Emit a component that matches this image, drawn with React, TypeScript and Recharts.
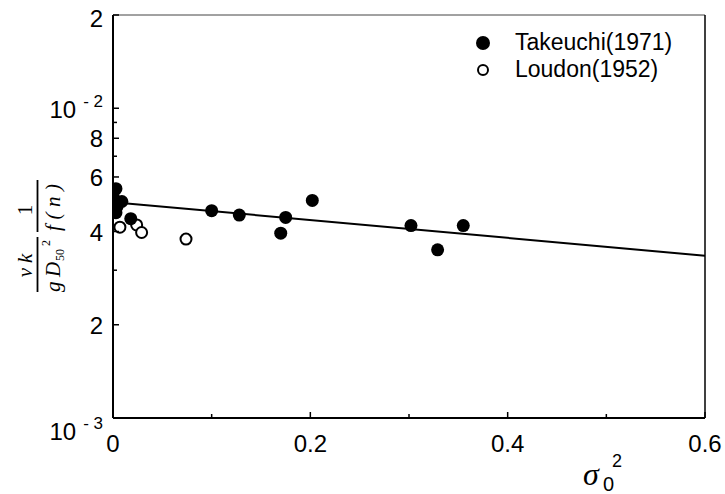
import React from 'react';
import {
  ScatterChart,
  Scatter,
  XAxis,
  YAxis,
  ReferenceLine,
  Legend,
} from 'recharts';

// Takeuchi (1971) measurements: sigma0^2 vs normalised coefficient
const takeuchi = [
  { x: 0.003, y: 0.0055 },
  { x: 0.0, y: 0.0052 },
  { x: 0.009, y: 0.005 },
  { x: 0.004, y: 0.0048 },
  { x: 0.003, y: 0.0046 },
  { x: 0.018, y: 0.0044 },
  { x: 0.1, y: 0.00467 },
  { x: 0.128, y: 0.00452 },
  { x: 0.175, y: 0.00444 },
  { x: 0.17, y: 0.00395 },
  { x: 0.202, y: 0.00504 },
  { x: 0.302, y: 0.00418 },
  { x: 0.329, y: 0.00349 },
  { x: 0.355, y: 0.00418 },
];

// Loudon (1952) measurements
const loudon = [
  { x: 0.007, y: 0.00413 },
  { x: 0.024, y: 0.0042 },
  { x: 0.029, y: 0.00397 },
  { x: 0.074, y: 0.00378 },
];

// fitted relation, straight on the semi-log plot
const fitLine = [
  { x: 0, y: 0.004975 },
  { x: 0.6, y: 0.00334 },
];

const xTicks = [0, 0.1, 0.2, 0.3, 0.4, 0.5, 0.6];
const xTickLabels: Record<string, string> = { '0': '0', '0.2': '0.2', '0.4': '0.4', '0.6': '0.6' };

const yTicks = [0.001, 0.002, 0.003, 0.004, 0.005, 0.006, 0.007, 0.008, 0.009, 0.01, 0.02];
const yTickLabels: Record<string, string> = {
  '0.002': '2',
  '0.004': '4',
  '0.006': '6',
  '0.008': '8',
  '0.02': '2',
};
const yPowerLabels: Record<string, string> = { '0.001': '- 3', '0.01': '- 2' };

const SANS = '"Liberation Sans", Arial, Helvetica, sans-serif';
const SERIF = '"Liberation Serif", "Times New Roman", serif';

const XTick = (props: any) => {
  const { x, y, payload } = props;
  const label = xTickLabels[String(payload.value)];
  const len = label ? 6 : 4;
  return (
    <g>
      <line x1={x} y1={y} x2={x} y2={y - len} stroke="#000" strokeWidth={1.5} />
      {label && (
        <text x={x} y={y + 34} textAnchor="middle" fontFamily={SANS} fontSize={24} fill="#000">
          {label}
        </text>
      )}
    </g>
  );
};

const YTick = (props: any) => {
  const { x, y, payload } = props;
  const key = String(payload.value);
  const label = yTickLabels[key];
  const power = yPowerLabels[key];
  const len = label || power ? 6 : 4;
  return (
    <g>
      <line x1={x} y1={y} x2={x + len} y2={y} stroke="#000" strokeWidth={1.5} />
      {label && (
        <text x={x - 10} y={y + (key === '0.02' ? 12 : 9)} textAnchor="end" fontFamily={SANS} fontSize={24} fill="#000">
          {label}
        </text>
      )}
      {power && (
        <text x={x - 10} y={y + (key === '0.001' ? 22 : 10)} textAnchor="end" fontFamily={SANS} fontSize={24} fill="#000">
          10
          <tspan dx={7} dy={-11} fontSize={17}>
            {power}
          </tspan>
        </text>
      )}
    </g>
  );
};

const FilledDot = (p: any) => <circle cx={p.cx} cy={p.cy} r={6.5} fill="#000" />;
const OpenDot = (p: any) => <circle cx={p.cx} cy={p.cy} r={5.5} fill="#fff" stroke="#000" strokeWidth={2} />;
const NoDot = () => <g />;

const legendItems = [
  { name: 'Takeuchi(1971)', filled: true },
  { name: 'Loudon(1952)', filled: false },
];

const LegendBox = () => (
  <div style={{ fontFamily: SANS, fontSize: 23, color: '#000' }}>
    {legendItems.map((item) => (
      <div key={item.name} style={{ display: 'flex', alignItems: 'center', height: 27 }}>
        <svg width={20} height={20} style={{ marginRight: 22 }}>
          {item.filled ? (
            <circle cx={10} cy={10} r={7} fill="#000" />
          ) : (
            <circle cx={10} cy={10} r={5} fill="#fff" stroke="#000" strokeWidth={2} />
          )}
        </svg>
        <span>{item.name}</span>
      </div>
    ))}
  </div>
);

// rotated fraction: (nu k / g D50^2) * (1 / f(n))
const YAxisTitle = () => (
  <g transform="translate(40,236) rotate(-90)" fill="#000">
    <text x={-29.5} y={-8} textAnchor="middle" fontFamily={SERIF} fontStyle="italic" fontSize={21}>
      ν<tspan dx={5}>k</tspan>
    </text>
    <line x1={-56} y1={-2.5} x2={-1} y2={-2.5} stroke="#000" strokeWidth={1.8} />
    <text x={-56} y={20} fontFamily={SERIF} fontStyle="italic" fontSize={21}>g</text>
    <text x={-41} y={20} fontFamily={SERIF} fontStyle="italic" fontSize={21}>D</text>
    <text x={-25} y={24} fontFamily={SERIF} fontSize={12}>50</text>
    <text x={-10} y={10} fontFamily={SERIF} fontSize={12}>2</text>
    <text x={26} y={-8} textAnchor="middle" fontFamily={SERIF} fontSize={21}>1</text>
    <line x1={4} y1={-2.5} x2={56} y2={-2.5} stroke="#000" strokeWidth={1.8} />
    <text x={5} y={20} fontFamily={SERIF} fontStyle="italic" fontSize={21} textLength={47} lengthAdjust="spacing">
      f(n)
    </text>
  </g>
);

export default function App() {
  return (
    <div style={{ position: 'absolute', left: 0, top: 0, width: 725, height: 494, background: '#fff' }}>
      <ScatterChart width={725} height={494} margin={{ top: 15, right: 20, bottom: 46, left: 13 }}>
        <XAxis
          type="number"
          dataKey="x"
          domain={[0, 0.6]}
          ticks={xTicks}
          interval={0}
          allowDataOverflow
          tickSize={0}
          tickMargin={0}
          tickLine={false}
          tick={<XTick />}
          height={30}
          axisLine={{ stroke: '#000', strokeWidth: 2 }}
        />
        <YAxis
          type="number"
          dataKey="y"
          scale="log"
          domain={[0.001, 0.02]}
          ticks={yTicks}
          interval={0}
          allowDataOverflow
          tickSize={0}
          tickMargin={0}
          tickLine={false}
          tick={<YTick />}
          width={100}
          axisLine={{ stroke: '#000', strokeWidth: 2 }}
          label={<YAxisTitle />}
        />
        <ReferenceLine y={0.02} stroke="#444" strokeWidth={1} />
        <ReferenceLine x={0.6} stroke="#000" strokeWidth={1.5} />
        <Scatter
          data={fitLine}
          line={{ stroke: '#000', strokeWidth: 2 }}
          shape={<NoDot />}
          isAnimationActive={false}
          legendType="none"
        />
        <Scatter data={loudon} shape={<OpenDot />} isAnimationActive={false} />
        <Scatter data={takeuchi} shape={<FilledDot />} isAnimationActive={false} />
        <Legend
          layout="vertical"
          align="center"
          verticalAlign="middle"
          content={<LegendBox />}
          wrapperStyle={{ position: 'absolute', left: 473, top: 29, width: 240 }}
        />
      </ScatterChart>
      <svg width={120} height={60} style={{ position: 'absolute', left: 570, top: 434 }}>
        <text x={13} y={51} fontFamily={SERIF} fontStyle="italic" fontSize={32} fill="#000">σ</text>
        <text x={33} y={57} fontFamily={SANS} fontSize={20} fill="#000">0</text>
        <text x={42} y={33} fontFamily={SANS} fontSize={18} fill="#000">2</text>
      </svg>
    </div>
  );
}
